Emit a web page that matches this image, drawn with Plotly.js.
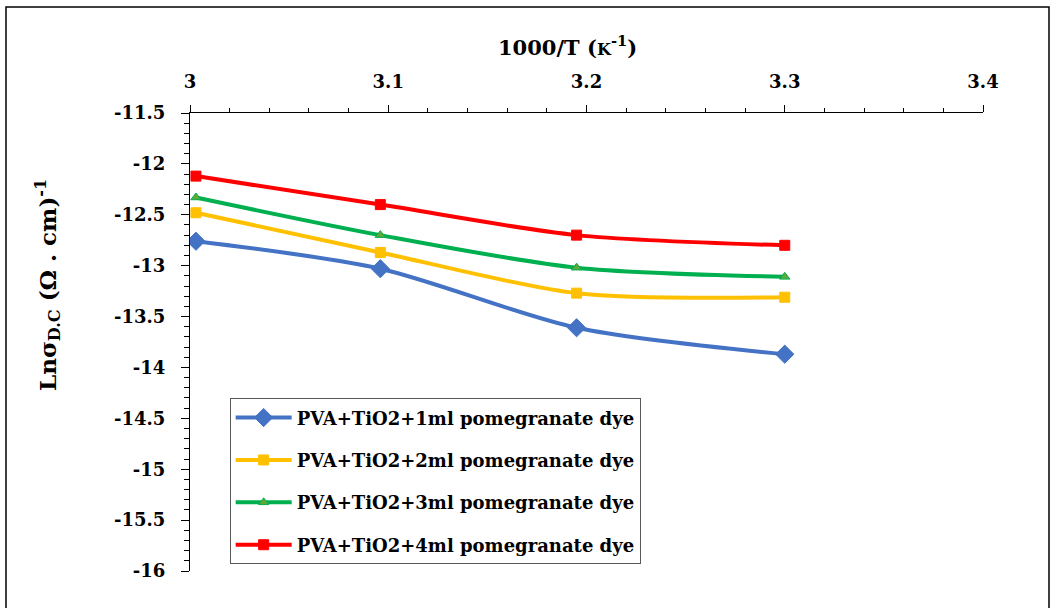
<!DOCTYPE html>
<html>
<head>
<meta charset="utf-8">
<script src="https://cdn.plot.ly/plotly-3.0.1.min.js"></script>
<style>
  html, body { margin: 0; padding: 0; background: #fff; }
  #chart { width: 1054px; height: 608px; }
</style>
</head>
<body>
<div id="chart"></div>
<script>
// 1000/T values (K^-1)
const invT = [3.003, 3.096, 3.195, 3.300];
const seriesNames = [
  "PVA+TiO2+1ml pomegranate dye",
  "PVA+TiO2+2ml pomegranate dye",
  "PVA+TiO2+3ml pomegranate dye",
  "PVA+TiO2+4ml pomegranate dye"
];
const dye1ml = [-12.76, -13.03, -13.61, -13.87];
const dye2ml = [-12.48, -12.87, -13.27, -13.31];
const dye3ml = [-12.33, -12.70, -13.02, -13.11];
const dye4ml = [-12.12, -12.40, -12.70, -12.80];
const yTicks = [-16, -15.5, -15, -14.5, -14, -13.5, -13, -12.5, -12, -11.5];
const xTicks = [3, 3.1, 3.2, 3.3, 3.4];
const xTitle = "1000/T (<span style='font-size:16px'>K</span><sup>-1</sup>)";
const yTitle = "Lnσ<sub>D.C</sub> (Ω . cm)<sup>-1</sup>";

const FONT = "DejaVu Serif";
const styles = [
  {color: "#4472C4", symbol: "diamond", size: 14, fill: "#4472C4"},
  {color: "#FFC000", symbol: "square", size: 10, fill: "#FFC000"},
  {color: "#00B050", symbol: "triangle-up", size: 9, fill: "#5FA83A"},
  {color: "#FF0000", symbol: "square", size: 10, fill: "#FF0000"}
];
const ys = [dye1ml, dye2ml, dye3ml, dye4ml];

const traces = ys.map((y, i) => ({
  type: "scatter",
  mode: "lines+markers",
  x: invT,
  y: y,
  name: seriesNames[i],
  legendgroup: "g" + i,
  line: {color: styles[i].color, width: 4, shape: "spline", smoothing: 0.8},
  marker: {symbol: styles[i].symbol, size: styles[i].size, color: styles[i].fill,
           line: {color: styles[i].color, width: 1}}
}));

const layout = {
  width: 1054,
  height: 608,
  margin: {l: 190, r: 71, t: 113, b: 37},
  paper_bgcolor: "#fff",
  plot_bgcolor: "#fff",
  font: {family: FONT, color: "#000"},
  showlegend: true,
  legend: {
    x: 0.05, y: 0.377, xanchor: "left", yanchor: "top",
    bordercolor: "#595959", borderwidth: 1, bgcolor: "#fff",
    font: {family: FONT, size: 18, color: "#000", weight: "bold"},
    tracegroupgap: 16,
    itemwidth: 56
  },
  xaxis: {
    side: "top",
    range: [3, 3.4],
    tickvals: xTicks,
    ticktext: xTicks.map(v => v === 3 ? "3" : v.toFixed(1)),
    ticks: "outside", ticklen: 7, tickwidth: 1, tickcolor: "#000",
    ticklabelstandoff: 10,
    minor: {dtick: 0.02, ticks: "outside", ticklen: 4, tickcolor: "#000"},
    showline: true, linecolor: "#000", linewidth: 1,
    showgrid: false, zeroline: false,
    tickfont: {family: FONT, size: 18, weight: "bold"}
  },
  yaxis: {
    range: [-16, -11.5],
    tickvals: yTicks,
    ticktext: yTicks.map(v => String(v)),
    ticks: "outside", ticklen: 8, tickwidth: 1, tickcolor: "#000",
    ticklabelstandoff: 12,
    minor: {dtick: 0.1, ticks: "outside", ticklen: 5, tickcolor: "#000"},
    showline: true, linecolor: "#000", linewidth: 1,
    showgrid: false, zeroline: false,
    tickfont: {family: FONT, size: 18, weight: "bold"}
  },
  annotations: [
    {text: xTitle, xref: "paper", yref: "paper",
     x: (567 - 190) / 793, y: (571 - 46) / 458, xanchor: "center", yanchor: "middle",
     showarrow: false, font: {family: FONT, size: 21, weight: "bold", color: "#000"}},
    {text: yTitle, xref: "paper", yref: "paper", textangle: -90,
     x: (47 - 190) / 793, y: (571 - 285) / 458, xanchor: "center", yanchor: "middle",
     showarrow: false, font: {family: FONT, size: 23, weight: "bold", color: "#000"}}
  ],
  shapes: [{
    type: "rect", xref: "paper", yref: "paper",
    x0: (6 - 190) / 793, x1: (1049 - 190) / 793,
    y0: (571 - 620) / 458, y1: (571 - 7) / 458,
    line: {color: "#000", width: 1.5}, fillcolor: "rgba(0,0,0,0)", layer: "below"
  }]
};

Plotly.newPlot("chart", traces, layout, {displayModeBar: false, staticPlot: true});
</script>
</body>
</html>
